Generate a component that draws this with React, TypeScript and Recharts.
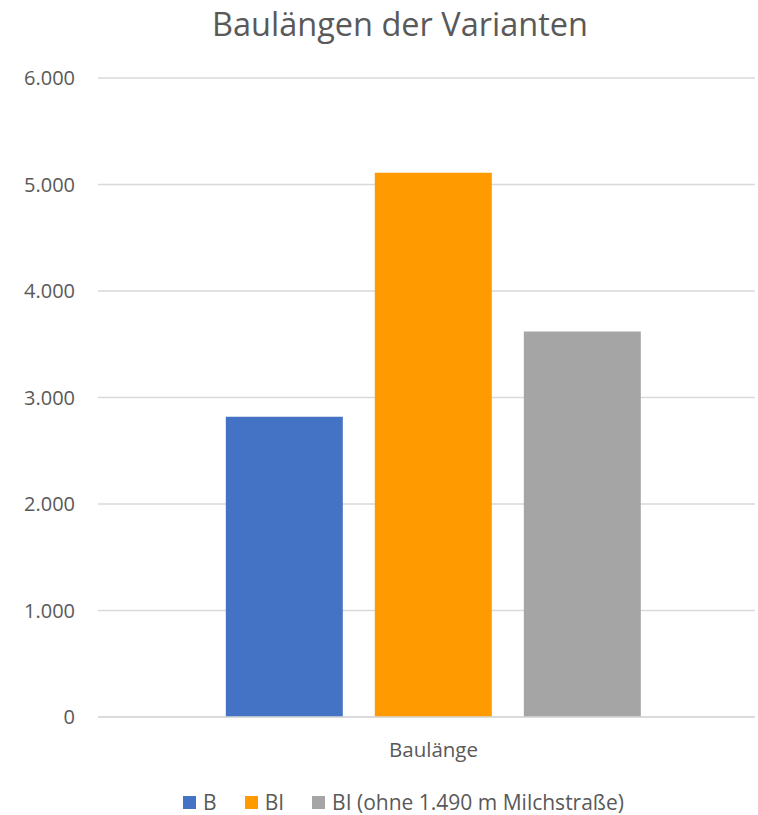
import { BarChart, Bar, XAxis, YAxis, CartesianGrid, Legend } from "recharts";

const title = "Baulängen der Varianten";
const categories = ["Baulänge"];
const seriesNames = ["B", "BI", "BI (ohne 1.490 m Milchstraße)"];
const seriesValues = [[2820], [5110], [3620]];
const seriesColors = ["#4472C4", "#FF9A00", "#A5A5A5"];
const yTicks = [0, 1000, 2000, 3000, 4000, 5000, 6000];

const font = "'Open Sans', sans-serif";
const textColor = "#595959";

const data = categories.map((c, i) => {
  const row: Record<string, string | number> = { name: c };
  seriesNames.forEach((s, j) => {
    row["s" + j] = seriesValues[j][i];
  });
  return row;
});

const fmt = (v: number) => v.toLocaleString("de-DE");

function LegendContent() {
  return (
    <div
      style={{
        display: "flex",
        justifyContent: "center",
        alignItems: "center",
        height: 26,
        fontFamily: font,
        fontSize: 21,
        color: textColor,
        paddingLeft: 52,
      }}
    >
      {seriesNames.map((s, i) => (
        <span key={s} style={{ display: "flex", alignItems: "center", marginRight: i < seriesNames.length - 1 ? 28 : 0 }}>
          <span style={{ width: 13, height: 13, background: seriesColors[i], marginRight: 7 }} />
          {s}
        </span>
      ))}
    </div>
  );
}

export default function App() {
  return (
    <div style={{ position: "absolute", left: 0, top: 0, width: 758, height: 815, background: "#fff" }}>
      <div
        style={{
          position: "absolute",
          top: 1,
          left: 42,
          width: 716,
          textAlign: "center",
          fontFamily: font,
          fontSize: 32.5,
          color: textColor,
        }}
      >
        {title}
      </div>
      <BarChart
        width={758}
        height={815}
        data={data}
        margin={{ top: 78, right: 3, bottom: 0, left: 0 }}
        barCategoryGap="17.7%"
        barGap={32}
      >
        <CartesianGrid vertical={false} stroke="#D9D9D9" strokeWidth={1.5} />
        <XAxis
          dataKey="name"
          height={72}
          padding={{ left: 14, right: 0 }}
          tickLine={false}
          axisLine={{ stroke: "#D9D9D9", strokeWidth: 1.5 }}
          tickMargin={19}
          tick={{ fontSize: 20.5, fill: textColor, fontFamily: font }}
        />
        <YAxis
          width={98}
          domain={[0, 6000]}
          ticks={yTicks}
          tickFormatter={fmt}
          axisLine={false}
          tickLine={false}
          tickMargin={17}
          tick={{ fontSize: 20, fill: textColor, fontFamily: font }}
        />
        <Legend verticalAlign="bottom" content={<LegendContent />} />
        {seriesNames.map((s, i) => (
          <Bar key={s} dataKey={"s" + i} name={s} fill={seriesColors[i]} isAnimationActive={false} />
        ))}
      </BarChart>
    </div>
  );
}
